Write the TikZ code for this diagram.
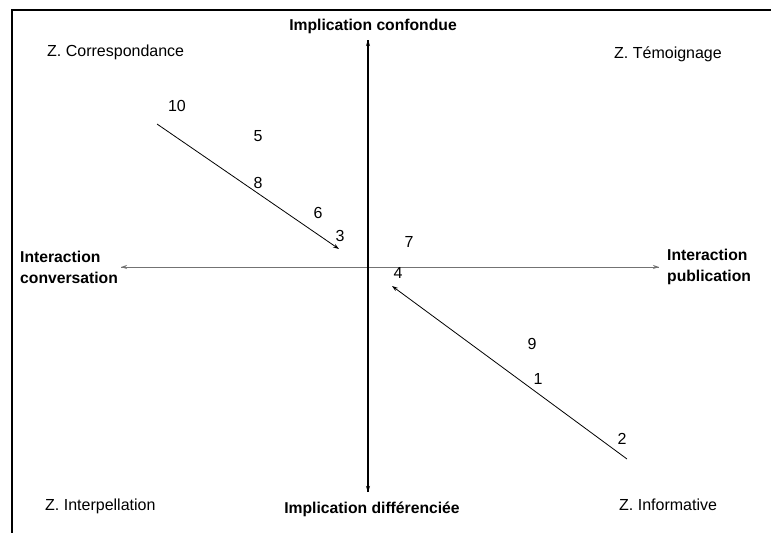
\documentclass[tikz,border=0pt]{standalone}
\usepackage{fontspec}
\setmainfont{Liberation Sans}
\usetikzlibrary{arrows.meta}
\begin{document}
\begin{tikzpicture}[x=1pt,y=-1pt,
  lbl/.style={font=\fontsize{16}{19}\selectfont, inner sep=0pt},
  blbl/.style={font=\fontsize{15.7}{21}\selectfont\bfseries, inner sep=0pt},
  num/.style={font=\fontsize{16}{19}\selectfont, inner sep=0pt},
  tip/.style={-{Stealth[length=6pt,width=4pt]}},
]
\useasboundingbox (0,0) rectangle (771,533);
% frame (top and left edges)
\coordinate (fr) at (771,10);
\coordinate (fc) at (12,10);
\coordinate (fb) at (12,533);
\draw[line width=1.2pt] (fr) -- (fc) -- (fb);

% axes
\coordinate (vt) at (368,40);
\coordinate (vb) at (368,492);
\coordinate (hl) at (121,267);
\coordinate (hr) at (659,267);
\draw[black!55, line width=0.9pt, tip] (hr) -- (hl);
\draw[black!55, line width=0.9pt, tip] (hl) -- (hr);
\draw[line width=1.3pt, tip] (vb) -- (vt);
\draw[line width=1.3pt, tip] (vt) -- (vb);

% axis labels
\node[blbl, anchor=base] (ic) at (373,30) {Implication confondue};
\node[blbl, anchor=base] (id) at (372,513) {Implication différenciée};
\node[blbl, anchor=west, align=left] (icv) at (20,267) {Interaction\\conversation};
\node[blbl, anchor=west, align=left] (ipb) at (667,267) {Interaction\\publication};

% zones
\node[lbl, anchor=base west] (zc) at (47,56) {Z. Correspondance};
\node[lbl, anchor=base west] (zt) at (614,58) {Z. Témoignage};
\node[lbl, anchor=base west] (zi) at (45,510) {Z. Interpellation};
\node[lbl, anchor=base west] (zf) at (619,510) {Z. Informative};

% diagonal arrows
\coordinate (a1) at (157,124);
\coordinate (a2) at (339,249);
\draw[line width=0.8pt, tip] (a1) -- (a2);
\coordinate (b1) at (627,459);
\coordinate (b2) at (392,286);
\draw[line width=0.8pt, tip] (b1) -- (b2);

% numbers
\node[num] (n10) at (177,106) {10};
\node[num] (n5) at (258,136) {5};
\node[num] (n8) at (258,183) {8};
\node[num] (n6) at (318,213) {6};
\node[num] (n3) at (340,236) {3};
\node[num] (n7) at (409,242) {7};
\node[num] (n4) at (398,273) {4};
\node[num] (n9) at (532,344) {9};
\node[num] (n1) at (538,379) {1};
\node[num] (n2) at (622,439) {2};
\end{tikzpicture}
\end{document}
